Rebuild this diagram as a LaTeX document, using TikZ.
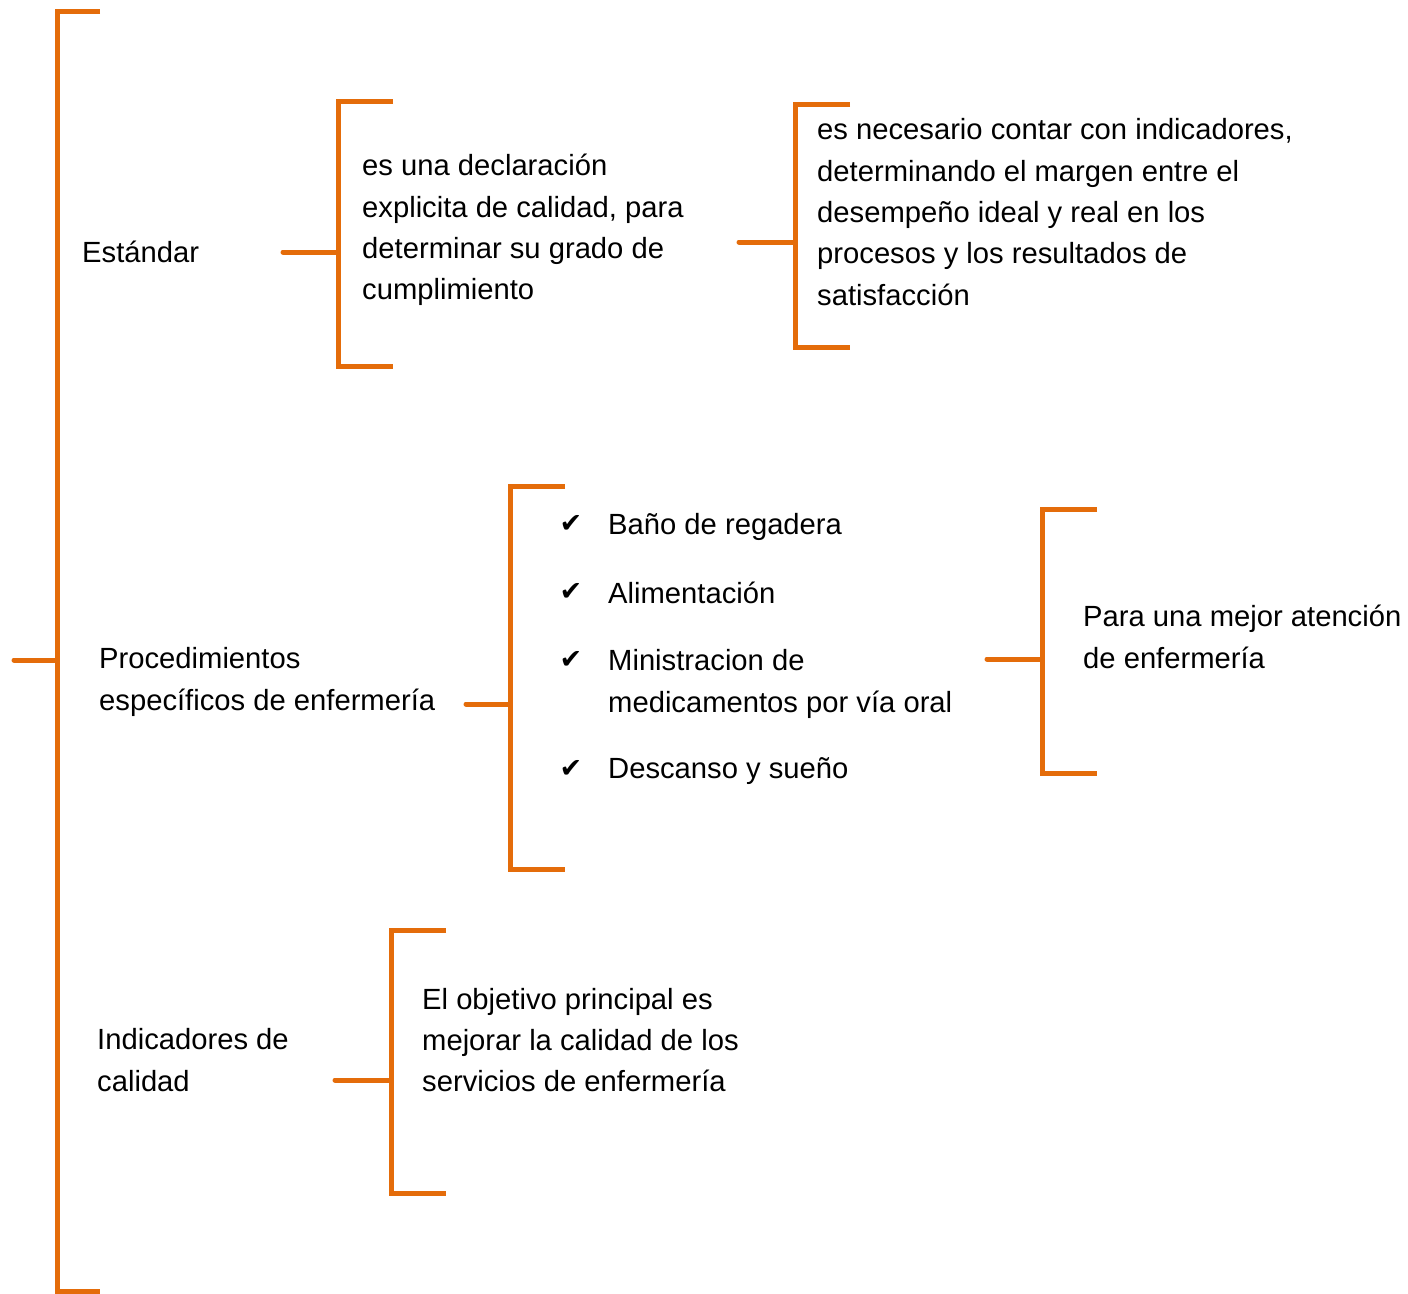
\documentclass[tikz,border=0pt]{standalone}
\usepackage{fontspec}
\setmainfont{Liberation Sans}
\newfontfamily\checkfont{DejaVu Sans}
\usetikzlibrary{positioning}
\definecolor{bracecol}{HTML}{E46C0A}

\tikzset{
  brace/.style={draw=bracecol,line width=5pt},
  stub/.style={brace,line cap=round},
  txt/.style={anchor=west,inner sep=0pt,align=left,font=\fontsize{29.2}{41.3}\selectfont},
  tick/.style={inner sep=0pt,font=\checkfont\fontsize{27}{27}\selectfont}
}

\begin{document}
\begin{tikzpicture}[x=1pt,y=-1pt]
  \useasboundingbox (0,0) rectangle (1408,1293);

  % main bracket
  \coordinate (root) at (14,660);
  \coordinate (rootj) at (57,660);
  \draw[brace] (100,11) -- (57,11) -- (57,1291) -- (100,1291);
  \draw[stub] (root) -- (rootj);

  % Estandar
  \node[txt] (est) at (82,252) {Estándar};
  \coordinate (estS) at (283,252);
  \coordinate (estJ) at (338,252);
  \draw[brace] (393,101) -- (338,101) -- (338,366) -- (393,366);
  \draw[stub] (estS) -- (estJ);
  \node[txt] (decl) at (362,230) {es una declaración\\explicita de calidad, para\\determinar su grado de\\cumplimiento};

  \coordinate (declS) at (739,242);
  \coordinate (declJ) at (795,242);
  \draw[brace] (850,104) -- (795,104) -- (795,347) -- (850,347);
  \draw[stub] (declS) -- (declJ);
  \node[txt] (indic) at (817,212) {es necesario contar con indicadores,\\determinando el margen entre el\\desempeño ideal y real en los\\procesos y los resultados de\\satisfacción};

  % Procedimientos
  \node[txt] (proc) at (99,682) {Procedimientos\\específicos de enfermería};
  \coordinate (procS) at (466,704);
  \coordinate (procJ) at (510,704);
  \draw[brace] (565,486) -- (510,486) -- (510,869) -- (565,869);
  \draw[stub] (procS) -- (procJ);
  \foreach \y/\t/\n in {527/{Baño de regadera}/p1, 593/{Alimentación}/p2,
      684/{Ministracion de\\medicamentos por vía oral}/p3, 771/{Descanso y sueño}/p4}{
    \node[txt] (\n) at (608,\y) {\t};
  }
  \foreach \y/\n in {524/p1, 592/p2, 660/p3, 769/p4}{
    \node[tick] (\n c) at (571,\y) {✔};
  }

  \coordinate (itemS) at (987,659);
  \coordinate (itemJ) at (1042,659);
  \draw[brace] (1097,509) -- (1042,509) -- (1042,773) -- (1097,773);
  \draw[stub] (itemS) -- (itemJ);
  \node[txt] (mejor) at (1083,637) {Para una mejor atención\\de enfermería};

  % Indicadores
  \node[txt] (cal) at (97,1060) {Indicadores de\\calidad};
  \coordinate (calS) at (335,1080);
  \coordinate (calJ) at (391,1080);
  \draw[brace] (446,930) -- (391,930) -- (391,1193) -- (446,1193);
  \draw[stub] (calS) -- (calJ);
  \node[txt] (obj) at (422,1040) {El objetivo principal es\\mejorar la calidad de los\\servicios de enfermería};
\end{tikzpicture}
\end{document}
